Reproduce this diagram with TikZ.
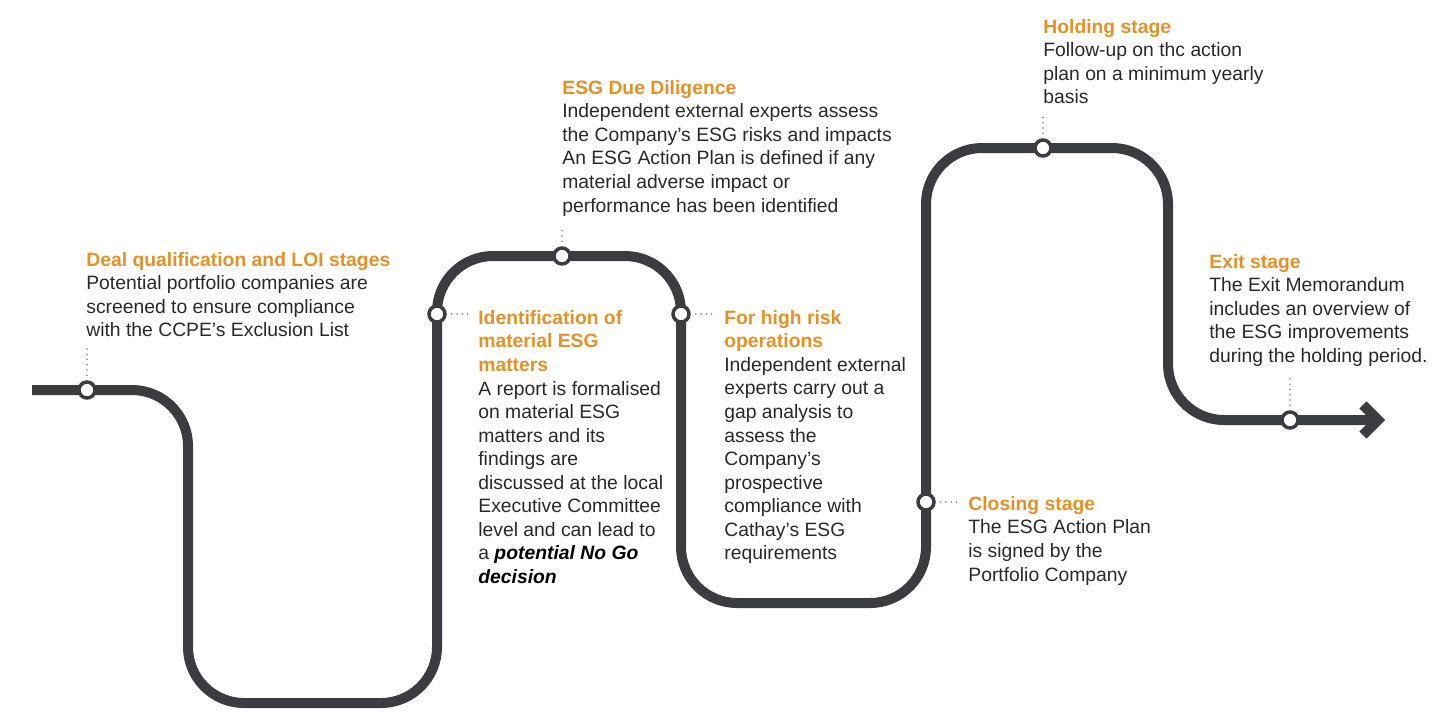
\documentclass[tikz,border=0pt]{standalone}
\usepackage{fontspec}
\setmainfont{Liberation Sans}
\usetikzlibrary{arrows.meta,positioning}
\definecolor{trackgray}{RGB}{58,60,64}
\definecolor{stageorange}{RGB}{226,146,40}
\definecolor{bodygray}{RGB}{40,40,40}
\tikzset{
  track/.style={line width=0.2cm,draw=trackgray,rounded corners=1.12cm},
  station/.style={circle,draw=trackgray,fill=white,line width=0.07cm,minimum size=0.32cm,inner sep=0pt},
  stagetxt/.style={anchor=north west,align=left,inner sep=0pt,font=\fontsize{11}{13.4}\selectfont,text=bodygray},
  leader/.style={draw=black!50,line width=1pt,line cap=round,dash pattern=on 0pt off 3pt}
}
\newcommand{\stagehead}[1]{{\color{stageorange}\bfseries #1}}

\begin{document}
\begin{tikzpicture}[x=0.02cm,y=-0.02cm]
  \useasboundingbox (0,0) rectangle (1452,711);
  % the process line
  \draw[track,-{Straight Barb[length=0.3cm,width=0.6cm]}] (32,390) -- (188,390) -- (188,703) -- (437,703) -- (437,256) -- (681,256)
    -- (681,603) -- (926,603) -- (926,148) -- (1168,148) -- (1168,420) -- (1385,420);
  % stations
  \node[station] (deal) at (87,390) {};
  \node[station] (idm) at (437,314) {};
  \node[station] (dd) at (562,256) {};
  \node[station] (hr) at (681,314) {};
  \node[station] (close) at (926,502) {};
  \node[station] (hold) at (1043,148) {};
  \node[station] (exit) at (1290,420) {};
  % stage texts
  \node[stagetxt] (dealtxt) at (86,252) {\stagehead{Deal qualification and LOI stages}\\Potential portfolio companies are\\screened to ensure compliance\\with the CCPE’s Exclusion List};
  \node[stagetxt] (ddtxt) at (562,80) {\stagehead{ESG Due Diligence}\\Independent external experts assess\\the Company’s ESG risks and impacts\\An ESG Action Plan is defined if any\\material adverse impact or\\performance has been identified};
  \node[stagetxt] (idmtxt) at (478,310) {\stagehead{Identification of}\\\stagehead{material ESG}\\\stagehead{matters}\\A report is formalised\\on material ESG\\matters and its\\findings are\\discussed at the local\\Executive Committee\\level and can lead to\\a {\color{black}\bfseries\itshape potential No Go}\\{\color{black}\bfseries\itshape decision}};
  \node[stagetxt] (hrtxt) at (724,310) {\stagehead{For high risk}\\\stagehead{operations}\\Independent external\\experts carry out a\\gap analysis to\\assess the\\Company’s\\prospective\\compliance with\\Cathay’s ESG\\requirements};
  \node[stagetxt] (holdtxt) at (1043,19) {\stagehead{Holding stage}\\Follow-up on thc action\\plan on a minimum yearly\\basis};
  \node[stagetxt] (exittxt) at (1209,254) {\stagehead{Exit stage}\\The Exit Memorandum\\includes an overview of\\the ESG improvements\\during the holding period.};
  \node[stagetxt] (closetxt) at (968,496) {\stagehead{Closing stage}\\The ESG Action Plan\\is signed by the\\Portfolio Company};
  % dotted leaders
  \draw[leader,shorten >=0.2cm,shorten <=0.1cm] (deal.north) -- (deal.north |- dealtxt.south);
  \draw[leader,shorten >=0.2cm,shorten <=0.1cm] (dd.north) -- (dd.north |- ddtxt.south);
  \draw[leader,shorten >=0.2cm,shorten <=0.1cm] (hold.north) -- (hold.north |- holdtxt.south);
  \draw[leader,shorten >=0.2cm,shorten <=0.1cm] (exit.north) -- (exit.north |- exittxt.south);
  \draw[leader,shorten >=0.15cm,shorten <=0.1cm] (idm.east) -- (idm.east -| idmtxt.west);
  \draw[leader,shorten >=0.15cm,shorten <=0.1cm] (hr.east) -- (hr.east -| hrtxt.west);
  \draw[leader,shorten >=0.15cm,shorten <=0.1cm] (close.east) -- (close.east -| closetxt.west);
\end{tikzpicture}
\end{document}
